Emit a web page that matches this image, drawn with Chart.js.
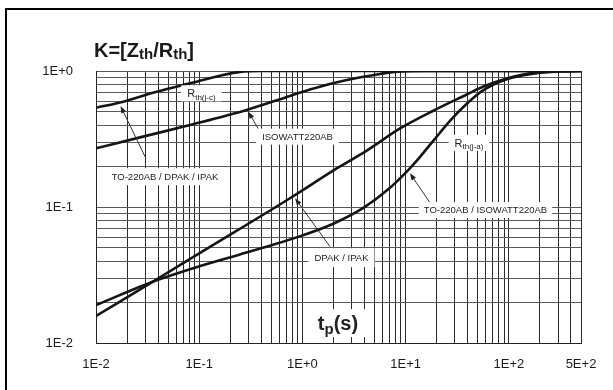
<!DOCTYPE html>
<html>
<head>
<meta charset="utf-8">
<script src="https://cdn.jsdelivr.net/npm/chart.js@4.4.1/dist/chart.umd.min.js"></script>
<style>
  html, body { margin: 0; padding: 0; background: #fff; }
  #wrap { position: relative; width: 613px; height: 390px; overflow: hidden; }
  #frame { position: absolute; left: 5px; top: 8px; width: 700px; height: 500px;
           border-left: 2px solid #000; border-top: 2px solid #000; pointer-events: none; }
  canvas { position: absolute; left: 0; top: 0; }
</style>
</head>
<body>
<div id="wrap">
  <canvas id="chart" width="613" height="390"></canvas>
  <div id="frame"></div>
</div>
<script>
// axis ticks
const xTickValues = [0.01, 0.1, 1, 10, 100, 500];
const xTickLabels = ['1E-2', '1E-1', '1E+0', '1E+1', '1E+2', '5E+2'];
const yTickValues = [0.01, 0.1, 1];
const yTickLabels = ['1E-2', '1E-1', '1E+0'];

// Rth(j-c), TO-220AB / DPAK / IPAK
const jcTo220X = [0.01, 0.0184, 0.0387, 0.0815, 0.17, 0.25, 0.4, 500];
const jcTo220Y = [0.537, 0.595, 0.704, 0.812, 0.934, 0.985, 1.0, 1.0];

// Rth(j-c), ISOWATT220AB
const jcIsoX = [0.01, 0.0267, 0.0815, 0.288, 0.758, 1.28, 2.69, 5.65, 8.3, 15, 500];
const jcIsoY = [0.270, 0.325, 0.401, 0.517, 0.655, 0.745, 0.859, 0.95, 0.99, 1.0, 1.0];

// Rth(j-a), DPAK / IPAK
const jaDpakX = [0.01, 0.0387, 0.102, 0.758, 2.15, 4.2, 8.83, 18.5, 39.1, 56.6, 95.3, 172, 316, 500];
const jaDpakY = [0.0158, 0.0294, 0.046, 0.116, 0.192, 0.26, 0.378, 0.51, 0.672, 0.769, 0.881, 0.972, 0.995, 1.0];

// Rth(j-a), TO-220AB / ISOWATT220AB
const jaTo220X = [0.01, 0.0387, 0.102, 0.248, 0.485, 1.02, 1.99, 3.89, 6.56, 10.3, 13.8, 18.5, 26.9, 39.1, 56.6, 95.3, 172, 316, 500];
const jaTo220Y = [0.019, 0.0289, 0.0368, 0.0448, 0.0519, 0.0621, 0.0753, 0.0984, 0.132, 0.183, 0.234, 0.306, 0.430, 0.574, 0.723, 0.871, 0.957, 0.993, 1.0];

const family = '"Liberation Sans", Arial, Helvetica, sans-serif';

// every 1..9 x 10^e line of the log grid
function gridValues(minExp, maxVal) {
  const out = [];
  for (let e = minExp; Math.pow(10, e) <= maxVal; e++) {
    for (let m = 1; m <= 9; m++) {
      const v = +(m * Math.pow(10, e)).toPrecision(6);
      if (v <= maxVal * (1 + 1e-9)) out.push(v);
    }
  }
  return out;
}

function labelFor(values, labels) {
  return v => {
    const i = values.findIndex(t => Math.abs(t - v) < t * 1e-6);
    return i >= 0 ? labels[i] : '';
  };
}

function series(xs, ys) {
  return xs.map((x, i) => ({ x: x, y: ys[i] }));
}

// text pieces: [text, size, baseline shift, bold]
const titleParts = [['K=[Z', 20, 0, true], ['th', 15, 2, true], ['/R', 20, 0, true], ['th', 15, 2, true], [']', 20, 0, true]];

const notes = [
  { at: [0.105, 0.685], parts: [['R', 11, 0], ['th(j-c)', 8, 2.5]], padX: 6, h: 16 },
  { at: [0.896, 0.329], parts: [['ISOWATT220AB', 9.5, 0]], padX: 6, h: 16 },
  { at: [0.0466, 0.167], parts: [['TO-220AB / DPAK / IPAK', 9.5, 0]], padX: 5, h: 17 },
  { at: [41.1, 0.296], parts: [['R', 11, 0], ['th(j-a)', 8, 2.5]], padX: 6, h: 16 },
  { at: [59.4, 0.0951], parts: [['TO-220AB / ISOWATT220AB', 9.5, 0]], padX: 5, h: 16 },
  { at: [2.39, 0.0424], parts: [['DPAK / IPAK', 9.5, 0]], padX: 6, h: 19 },
  { at: [2.21, 0.0140], parts: [['t', 20, 0, true], ['p', 15, 4, true], ['(s)', 20, 0, true]], padX: 8, h: 28 }
];

// arrows: tail -> tip
const arrows = [
  { from: [0.0299, 0.234], to: [0.0173, 0.553] },
  { from: [0.388, 0.358], to: [0.299, 0.502] },
  { from: [1.85, 0.0511], to: [0.848, 0.116] },
  { from: [17.2, 0.1076], to: [11.0, 0.177] }
];

function partFont(p) {
  return (p[3] ? 'bold ' : '') + p[1] + 'px ' + family;
}

function partsWidth(ctx, parts) {
  let w = 0;
  parts.forEach(p => { ctx.font = partFont(p); w += ctx.measureText(p[0]).width; });
  return w;
}

function drawParts(ctx, parts, left, baseline) {
  let cx = left;
  ctx.textAlign = 'left';
  ctx.textBaseline = 'alphabetic';
  parts.forEach(p => {
    ctx.font = partFont(p);
    ctx.fillText(p[0], cx, baseline + p[2]);
    cx += ctx.measureText(p[0]).width;
  });
}

function drawArrow(ctx, x1, y1, x2, y2) {
  const ang = Math.atan2(y2 - y1, x2 - x1);
  const len = 7, half = 2.6;
  ctx.strokeStyle = '#333';
  ctx.fillStyle = '#222';
  ctx.lineWidth = 1;
  ctx.beginPath();
  ctx.moveTo(x1, y1);
  ctx.lineTo(x2 - Math.cos(ang) * len * 0.8, y2 - Math.sin(ang) * len * 0.8);
  ctx.stroke();
  ctx.beginPath();
  ctx.moveTo(x2, y2);
  ctx.lineTo(x2 - Math.cos(ang) * len - Math.sin(ang) * half, y2 - Math.sin(ang) * len + Math.cos(ang) * half);
  ctx.lineTo(x2 - Math.cos(ang) * len + Math.sin(ang) * half, y2 - Math.sin(ang) * len - Math.cos(ang) * half);
  ctx.closePath();
  ctx.fill();
}

const notesPlugin = {
  id: 'notes',
  afterDatasetsDraw(chart) {
    const ctx = chart.ctx;
    const xs = chart.scales.x, ys = chart.scales.y;
    const area = chart.chartArea;
    ctx.save();
    arrows.forEach(a => {
      drawArrow(ctx, xs.getPixelForValue(a.from[0]), ys.getPixelForValue(a.from[1]),
        xs.getPixelForValue(a.to[0]), ys.getPixelForValue(a.to[1]));
    });
    notes.forEach(n => {
      const cx = xs.getPixelForValue(n.at[0]);
      const cy = ys.getPixelForValue(n.at[1]);
      const w = partsWidth(ctx, n.parts);
      ctx.fillStyle = '#fff';
      ctx.fillRect(cx - w / 2 - n.padX, cy - n.h / 2, w + 2 * n.padX, n.h);
      ctx.fillStyle = '#222';
      drawParts(ctx, n.parts, cx - w / 2, cy + n.parts[0][1] * 0.36);
    });
    ctx.fillStyle = '#1a1a1a';
    drawParts(ctx, titleParts, area.left - 2, area.top - 14);
    ctx.restore();
  }
};

const curveStyle = {
  borderColor: '#151515',
  borderWidth: 2.6,
  pointRadius: 0,
  fill: false,
  cubicInterpolationMode: 'monotone'
};

const xGrid = gridValues(-2, 500);
const yGrid = gridValues(-2, 1);

new Chart(document.getElementById('chart'), {
  type: 'line',
  data: {
    datasets: [
      { label: 'Rth(j-c) TO-220AB / DPAK / IPAK', data: series(jcTo220X, jcTo220Y), ...curveStyle },
      { label: 'Rth(j-c) ISOWATT220AB', data: series(jcIsoX, jcIsoY), ...curveStyle },
      { label: 'Rth(j-a) DPAK / IPAK', data: series(jaDpakX, jaDpakY), ...curveStyle },
      { label: 'Rth(j-a) TO-220AB / ISOWATT220AB', data: series(jaTo220X, jaTo220Y), ...curveStyle }
    ]
  },
  options: {
    responsive: false,
    animation: false,
    devicePixelRatio: 1,
    layout: { padding: { top: 71, right: 32, left: 0, bottom: 0 } },
    plugins: { legend: { display: false }, tooltip: { enabled: false } },
    scales: {
      x: {
        type: 'logarithmic',
        min: 0.01,
        max: 500,
        afterBuildTicks: axis => { axis.ticks = xGrid.map(v => ({ value: v })); },
        afterFit: axis => { axis.height = 47; },
        grid: { color: '#2b2b2b', lineWidth: 1, drawTicks: false },
        border: { color: '#222', width: 1 },
        ticks: {
          autoSkip: false, maxRotation: 0, minRotation: 0, padding: 14,
          color: '#1a1a1a', font: { family: family, size: 13 },
          callback: labelFor(xTickValues, xTickLabels)
        }
      },
      y: {
        type: 'logarithmic',
        min: 0.01,
        max: 1,
        afterBuildTicks: axis => { axis.ticks = yGrid.map(v => ({ value: v })); },
        afterFit: axis => { axis.width = 96; },
        grid: { color: '#5a5a5a', lineWidth: 1, drawTicks: false },
        border: { color: '#222', width: 1 },
        ticks: {
          autoSkip: false, padding: 23,
          color: '#1a1a1a', font: { family: family, size: 13 },
          callback: labelFor(yTickValues, yTickLabels)
        }
      }
    }
  },
  plugins: [notesPlugin]
});
</script>
</body>
</html>
